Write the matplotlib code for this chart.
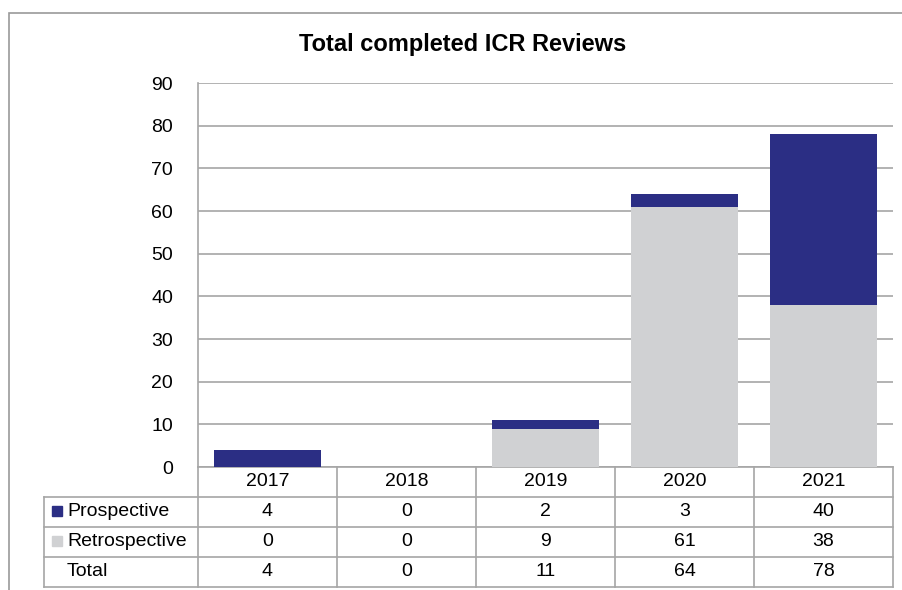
import matplotlib
matplotlib.use("Agg")
import matplotlib.pyplot as plt
import matplotlib.transforms as mtransforms
from matplotlib.patches import Rectangle
from matplotlib.lines import Line2D

years = ["2017", "2018", "2019", "2020", "2021"]
prospective = [4, 0, 2, 3, 40]
retrospective = [0, 0, 9, 61, 38]
series_names = ["Prospective", "Retrospective"]
totals = [p + r for p, r in zip(prospective, retrospective)]

c_pro = "#2B2E84"
c_ret = "#D0D1D3"
c_line = "#A6A6A6"

plt.rcParams['font.family'] = ['Liberation Sans', 'DejaVu Sans']

W, H = 903, 590
fig = plt.figure(figsize=(W / 100, H / 100), dpi=100)

# outer frame
fig.add_artist(Rectangle((9 / W, -0.1), 1.2, 1 - 13 / H + 0.1, transform=fig.transFigure,
                         fill=False, edgecolor="#9A9A9A", linewidth=1.2))

L, R, T, B = 198, 893, 83, 467
ax = fig.add_axes([L / W, 1 - B / H, (R - L) / W, (B - T) / H])

x = list(range(len(years)))
ax.bar(x, retrospective, width=0.77, color=c_ret, zorder=3)
ax.bar(x, prospective, width=0.77, bottom=retrospective, color=c_pro, zorder=3)

ax.set_xlim(-0.5, len(years) - 0.5)
ax.set_ylim(0, 90)
ax.set_yticks(range(0, 91, 10))
ax.yaxis.grid(True, color=c_line, linewidth=1.2, zorder=0)
ax.set_xticks([])
for s in ["top", "right", "bottom"]:
    ax.spines[s].set_visible(False)
ax.spines["left"].set_color(c_line)
ax.spines["left"].set_linewidth(1.2)
ax.tick_params(axis="y", length=0, pad=18, labelsize=14)

fig.text(0.5 * (290 + 635) / W, 1 - 44 / H, "Total completed ICR Reviews",
         ha="center", va="center", fontsize=17, fontweight="bold")

# data table below axes
trans = mtransforms.blended_transform_factory(ax.transData, ax.transAxes)
rowh = 30 / (B - T)
colw_label = 154 / ((R - L) / len(years))
xl = -0.5 - colw_label
xr = len(years) - 0.5
kw = dict(transform=trans, clip_on=False, color=c_line, linewidth=1.2)

# horizontal lines
ax.add_line(Line2D([-0.5, xr], [0, 0], **kw))
for k in range(1, 5):
    ax.add_line(Line2D([xl, xr], [-k * rowh, -k * rowh], **kw))
# vertical lines
ax.add_line(Line2D([xl, xl], [-rowh, -4 * rowh], **kw))
for i in range(len(years) + 1):
    ax.add_line(Line2D([i - 0.5, i - 0.5], [0, -4 * rowh], **kw))

tfs = 14
for i, yr in enumerate(years):
    ax.text(i, -0.5 * rowh, yr, transform=trans, ha="center", va="center", fontsize=tfs)
rows = [prospective, retrospective, totals]
row_labels = series_names + ["Total"]
key_colors = [c_pro, c_ret, None]
for r, (vals, lab, kc) in enumerate(zip(rows, row_labels, key_colors)):
    yc = -(r + 1.5) * rowh
    for i, v in enumerate(vals):
        ax.text(i, yc, str(v), transform=trans, ha="center", va="center", fontsize=tfs)
    ax.text(xl + 0.165, yc, lab, transform=trans, ha="left", va="center", fontsize=tfs)
    if kc is not None:
        ax.plot([xl + 0.095], [yc + 1 / (B - T)], marker="s", markersize=7.5, color=kc,
                transform=trans, clip_on=False, linestyle="none")

fig.savefig("out.png", dpi=100)
